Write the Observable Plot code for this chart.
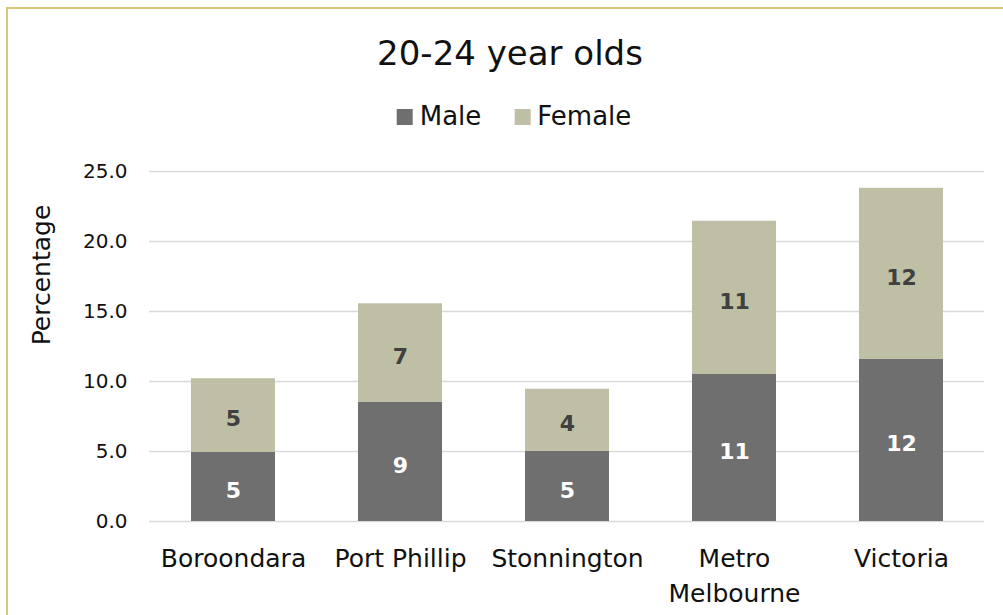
<!DOCTYPE html>
<html>
<head>
<meta charset="utf-8">
<script src="https://cdn.jsdelivr.net/npm/d3@7"></script>
<script src="https://cdn.jsdelivr.net/npm/@observablehq/plot@0.6"></script>
<style>
  html, body { margin: 0; padding: 0; background: #fff; overflow: hidden; }
  #wrap { position: relative; width: 1003px; height: 615px; overflow: hidden; font-family: "DejaVu Sans", sans-serif; color: #111; }
  #frame { position: absolute; left: 6px; top: 7px; width: 1200px; height: 800px; border: 2px solid #d6c97c; box-sizing: border-box; }
  #title { position: absolute; left: 510px; top: 36px; transform: translateX(-50%); font-size: 34px; line-height: 34px; white-space: nowrap; }
  #legend { position: absolute; left: 514px; top: 103px; transform: translateX(-50%); display: flex; align-items: center; height: 26px; font-size: 26px; line-height: 26px; white-space: nowrap; }
  #legend .sw { width: 16px; height: 16px; display: inline-block; margin-right: 7px; margin-top: 2px; }
  #legend .item { display: flex; align-items: center; }
  #legend .item + .item { margin-left: 33px; }
  #ylabel { position: absolute; left: 41px; top: 275px; transform: translate(-50%, -50%) rotate(-90deg); font-size: 25px; white-space: nowrap; }
  #chart { position: absolute; left: 0; top: 140px; }
</style>
</head>
<body>
<div id="wrap">
  <div id="frame"></div>
  <div id="title"></div>
  <div id="legend"></div>
  <div id="ylabel"></div>
  <div id="chart"></div>
</div>
<script>
const title = "20-24 year olds";
const yLabel = "Percentage";
const areas = ["Boroondara", "Port Phillip", "Stonnington", "Metro\nMelbourne", "Victoria"];
const series = ["Male", "Female"];
const colors = ["#6f6f6f", "#bfbfa5"];
const male = [4.95, 8.5, 5.0, 10.5, 11.6];
const female = [5.25, 7.05, 4.45, 10.95, 12.2];
const yTicks = [0, 5, 10, 15, 20, 25];

const data = [];
series.forEach((s, si) => {
  const vals = si === 0 ? male : female;
  areas.forEach((a, i) => data.push({area: a, sex: s, value: vals[i]}));
});

document.getElementById("title").textContent = title;
document.getElementById("ylabel").textContent = yLabel;
const legend = document.getElementById("legend");
series.forEach((s, i) => {
  const item = document.createElement("div");
  item.className = "item";
  const sw = document.createElement("span");
  sw.className = "sw";
  sw.style.background = colors[i];
  const t = document.createElement("span");
  t.textContent = s;
  item.appendChild(sw);
  item.appendChild(t);
  legend.appendChild(item);
});

const fmt = d3.format(".1f");
const chart = Plot.plot({
  width: 1003,
  height: 475,
  marginLeft: 149,
  marginRight: 19,
  marginTop: 31,
  marginBottom: 94,
  style: {fontFamily: "DejaVu Sans, sans-serif", color: "#111", background: "transparent"},
  x: {domain: areas, paddingInner: 0.5, paddingOuter: 0.25, label: null},
  y: {domain: [0, 25], label: null},
  color: {domain: series, range: colors},
  marks: [
    Plot.gridY(yTicks, {stroke: "#d9d9d9", strokeOpacity: 1, strokeWidth: 1.5}),
    Plot.barY(data, {x: "area", y: "value", z: "sex", fill: "sex"}),
    Plot.text(data, Plot.stackY({x: "area", y: "value", z: "sex",
      text: d => d.sex === "Male" ? String(Math.round(d.value)) : null,
      fill: "white", fontWeight: "bold", fontSize: 22, dy: 4})),
    Plot.text(data, Plot.stackY({x: "area", y: "value", z: "sex",
      text: d => d.sex === "Female" ? String(Math.round(d.value)) : null,
      fill: "#404040", fontWeight: "bold", fontSize: 22, dy: 4})),
    Plot.axisY({ticks: yTicks, tickFormat: fmt, tickSize: 0, tickPadding: 22, fontSize: 20, label: null}),
    Plot.axisX({tickSize: 0, tickPadding: 21, fontSize: 25, lineHeight: 1.4, label: null})
  ]
});
document.getElementById("chart").appendChild(chart);
</script>
</body>
</html>
